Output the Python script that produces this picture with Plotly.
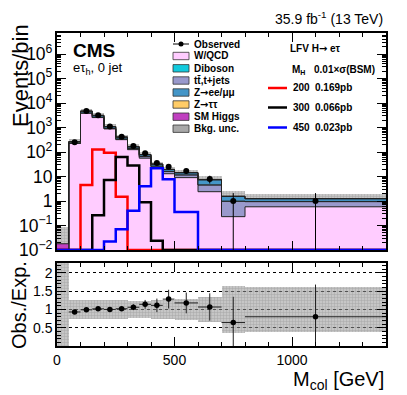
import numpy as np
import plotly.graph_objects as go

# ---------------- data ----------------
bin_edges = [0, 50, 100, 150, 200, 250, 300, 350, 400, 450, 500, 600, 700, 800, 1400]

w_qcd    = [0, 225, 3900, 2550, 880, 320, 125, 56, 22, 13, 9, 2.4, 0.23, 0.58]
ttbar    = [0, 2, 25, 40, 30, 20, 12, 9, 4.5, 3.0, 2.6, 2.1, 0.75, 0.36]
diboson  = [0, 1, 15, 12, 7, 4, 1.8, 0.8, 0.3, 0.15, 0.1, 0.08, 0.01, 0.02]
z_ll     = [0.002, 25, 500, 380, 140, 55, 22, 11, 4.8, 3.0, 2.5, 2.7, 0.55, 0.28]
z_tautau = [0.002, 15, 300, 160, 40, 12, 4, 2, 0.7, 0.3, 0.2, 0.2, 0.02, 0.01]
sm_higgs = [0.014, 0.5, 8, 6, 3, 1, 0.3, 0.2, 0.1, 0.05, 0.03, 0.02, 0, 0]

bkg_unc_rel = [4.0, 0.26, 0.25, 0.25, 0.25, 0.25, 0.24, 0.24, 0.25, 0.26, 0.29, 0.34, 0.64, 0.62]

obs_centers = [75, 125, 175, 225, 275, 325, 375, 425, 475, 550, 650, 750, 1100]
observed    = [250, 4700, 3200, 1100, 420, 175, 90, 36, 25, 17, 8, 1, 1]
obs_err_up  = [16, 69, 57, 33, 21, 13, 9.5, 6, 5, 4.1, 2.8, 1.1, 1.1]
obs_err_dn  = [16, 69, 57, 33, 21, 13, 9.5, 6, 5, 4.1, 2.8, 1.0, 1.0]

sig_200 = [0, 0, 4.5, 128, 94, 1.5, 0, 0, 0, 0, 0, 0, 0, 0]
sig_300 = [0, 0, 0, 0.26, 7.2, 62, 28, 0.9, 0.024, 0, 0, 0, 0, 0]
sig_450 = [0, 0, 0, 0, 0.022, 0.07, 0.4, 4.0, 21.6, 7.7, 0.36, 0, 0, 0]

# ---------------- styling ----------------
OFF = 8                      # page body margin of the html page
W, H = 407 - OFF, 395 - OFF
# positions below are in window pixels
L, R, T, B = 57, 386, 33, 346
MAIN_BOT, RAT_TOP = 250, 263
FONT = "Liberation Sans, Arial, Helvetica, sans-serif"
ARROW = "<span style='font-family:DejaVu Sans'>→</span>"
YMIN_LOG, YMAX_LOG = -2, 6.86
FLOOR = 10 ** YMIN_LOG

C_WQCD, C_DIB, C_TT, C_ZLL, C_ZTT, C_HIG = "#ffccff", "#12cadd", "#9999cc", "#4496c8", "#ffcc66", "#c040c0"

edges = np.array(bin_edges, dtype=float)
centers = 0.5 * (edges[:-1] + edges[1:])
widths = edges[1:] - edges[:-1]

comps = [(w_qcd, C_WQCD), (ttbar, C_TT), (diboson, C_DIB), (z_ll, C_ZLL), (z_tautau, C_ZTT), (sm_higgs, C_HIG)]
total = np.sum([np.array(c, float) for c, _ in comps], axis=0)

def step(vals, floor=1e-4):
    v = np.maximum(np.array(vals, float), floor)
    return list(v) + [v[-1]]

fig = go.Figure()

# baseline for stacked fills
fig.add_trace(go.Scatter(x=edges, y=step(np.zeros(len(centers))), mode="lines", line=dict(width=0, shape="hv"),
                         xaxis="x", yaxis="y", hoverinfo="skip"))
cum = np.zeros(len(centers))
for vals, col in comps:
    cum = cum + np.array(vals, float)
    fig.add_trace(go.Scatter(x=edges, y=step(cum), mode="lines", fill="tonexty", fillcolor=col,
                             line=dict(color="#222222", width=1, shape="hv"),
                             xaxis="x", yaxis="y", hoverinfo="skip"))

# background uncertainty band (main)
rel = np.array(bkg_unc_rel, float)
lo = np.maximum(total * (1 - rel), 1e-4)
hi = total * (1 + rel)
band_marker = dict(color="rgba(150,150,150,0.55)", line=dict(width=0),
                   pattern=dict(shape="+", fillmode="overlay", fgcolor="rgba(80,80,80,0.55)", size=3, solidity=0.3))
fig.add_trace(go.Bar(x=centers, y=hi - lo, base=lo, width=widths, marker=band_marker,
                     xaxis="x", yaxis="y", hoverinfo="skip"))

# signals
for vals, col in [(sig_200, "#ff0000"), (sig_300, "#000000"), (sig_450, "#0000ff")]:
    fig.add_trace(go.Scatter(x=edges, y=step(vals, FLOOR), mode="lines",
                             line=dict(color=col, width=2.5, shape="hv"),
                             xaxis="x", yaxis="y", hoverinfo="skip"))

# observed
fig.add_trace(go.Scatter(x=obs_centers, y=observed, mode="markers",
                         marker=dict(color="black", size=6),
                         error_y=dict(type="data", symmetric=False, array=obs_err_up, arrayminus=obs_err_dn,
                                      color="black", thickness=1, width=0),
                         xaxis="x", yaxis="y", hoverinfo="skip"))

# ratio band
fig.add_trace(go.Bar(x=centers, y=2 * rel, base=1 - rel, width=widths, marker=band_marker,
                     xaxis="x2", yaxis="y2", hoverinfo="skip"))
tot_obs = total[1:]
ratio = np.array(observed, float) / tot_obs
fig.add_trace(go.Scatter(x=obs_centers, y=ratio, mode="markers",
                         marker=dict(color="black", size=5.5),
                         error_y=dict(type="data", symmetric=False, array=np.array(obs_err_up) / tot_obs,
                                      arrayminus=np.array(obs_err_dn) / tot_obs, color="#222", thickness=1, width=0),
                         error_x=dict(type="data", array=widths[1:] / 2, color="#222", thickness=1, width=0),
                         xaxis="x2", yaxis="y2", hoverinfo="skip"))

# ---------------- layout ----------------
PH = B - T
def fy(y):
    return (B - y) / PH
def fx(x):
    return (x - L) / (R - L)

axis_common = dict(showline=True, linecolor="black", linewidth=1.5, mirror="allticks", automargin=False,
                   ticks="inside", tickcolor="black", zeroline=False, showgrid=False,
                   tickfont=dict(family=FONT, size=14, color="black"))

fig.update_layout(
    template="none",
    width=W, height=H,
    margin=dict(l=L - OFF, r=(W + OFF) - R, t=T - OFF, b=(H + OFF) - B, autoexpand=False),
    paper_bgcolor="white", plot_bgcolor="white", showlegend=False, barmode="overlay", bargap=0,
    font=dict(family=FONT, color="black"),
    xaxis=dict(domain=[0, 1], range=[0, 1400], anchor="y", showticklabels=False, dtick=500, ticklen=9,
               minor=dict(dtick=100, ticklen=4, ticks="inside", tickcolor="black"), **axis_common),
    yaxis=dict(domain=[fy(MAIN_BOT), 1], type="log", range=[YMIN_LOG, YMAX_LOG], anchor="x", dtick=1,
               exponentformat="power", ticklen=9,
               minor=dict(ticks="inside", ticklen=4, tickcolor="black"), **axis_common),
    xaxis2=dict(domain=[0, 1], range=[0, 1400], anchor="y2", dtick=500, ticklen=9,
                minor=dict(dtick=100, ticklen=4, ticks="inside", tickcolor="black"), **axis_common),
    yaxis2=dict(domain=[0, fy(RAT_TOP)], range=[0, 2.27], anchor="x2",
                tickvals=[0.5, 1, 1.5, 2], ticktext=["0.5", "1", "1.5", "2"], ticklen=9,
                minor=dict(dtick=0.1, ticklen=4, ticks="inside", tickcolor="black"),
                **{**axis_common, "showgrid": True}, gridcolor="black", griddash="dot", gridwidth=1),
)

ann = []
shapes = []
def text(x, y, s, size, anchor="left", bold=False, angle=0, yanchor="middle"):
    ann.append(dict(x=fx(x), y=fy(y), xref="paper", yref="paper", text=(f"<b>{s}</b>" if bold else s),
                    showarrow=False, xanchor=anchor, yanchor=yanchor, textangle=angle,
                    font=dict(family=FONT, size=size, color="black")))

text(385, 18, "35.9 fb<sup>-1</sup> (13 TeV)", 14, anchor="right")
text(71, 50, "CMS", 19, bold=True)
text(71, 68, "eτ<sub>h</sub>, 0 jet", 13)
text(20, 76, "Events/bin", 22, anchor="center", angle=-90)
text(19, 305, "Obs./Exp.", 20, anchor="center", angle=-90)
text(386, 380, "M<sub>col</sub> [GeV]", 20, anchor="right")

# left legend
rows = [44, 56, 68.3, 80.5, 92.5, 104.5, 116.7, 128.7]
labels = ["Observed", "W/QCD", "Diboson", "tt\u0304,t+jets", "Z" + ARROW + "ee/μμ", "Z" + ARROW + "ττ", "SM Higgs", "Bkg. unc."]
fills = [None, C_WQCD, C_DIB, C_TT, C_ZLL, C_ZTT, C_HIG, "#a8a8a8"]
for yy, lab, col in zip(rows, labels, fills):
    text(192, yy, lab, 10, bold=True)
    if col is None:
        shapes.append(dict(type="line", xref="paper", yref="paper", x0=fx(173), x1=fx(189), y0=fy(yy), y1=fy(yy),
                           line=dict(color="black", width=1)))
        shapes.append(dict(type="circle", xref="paper", yref="paper", x0=fx(178.5), x1=fx(183.5),
                           y0=fy(yy + 2.5), y1=fy(yy - 2.5), fillcolor="black", line=dict(width=0)))
    else:
        shapes.append(dict(type="rect", xref="paper", yref="paper", x0=fx(173), x1=fx(189),
                           y0=fy(yy + 3.7), y1=fy(yy - 3.7), fillcolor=col, line=dict(color="#333", width=0.8)))

# right legend
text(288, 48.3, "LFV H" + ARROW + " eτ", 10, bold=True)
text(290, 70, "M<sub>H</sub>", 10, bold=True)
text(312, 70, "0.01×σ(BSM)", 10, bold=True)
for yy, col, m, xs in [(88, "#ff0000", "200", "0.169pb"), (107.5, "black", "300", "0.066pb"), (127.5, "#0000ff", "450", "0.023pb")]:
    shapes.append(dict(type="line", xref="paper", yref="paper", x0=fx(268), x1=fx(287), y0=fy(yy), y1=fy(yy),
                       line=dict(color=col, width=2.5)))
    text(291, yy, m, 10, bold=True)
    text(313, yy, xs, 10, bold=True)

fig.update_layout(annotations=ann, shapes=shapes)
fig.write_html("out.html")
